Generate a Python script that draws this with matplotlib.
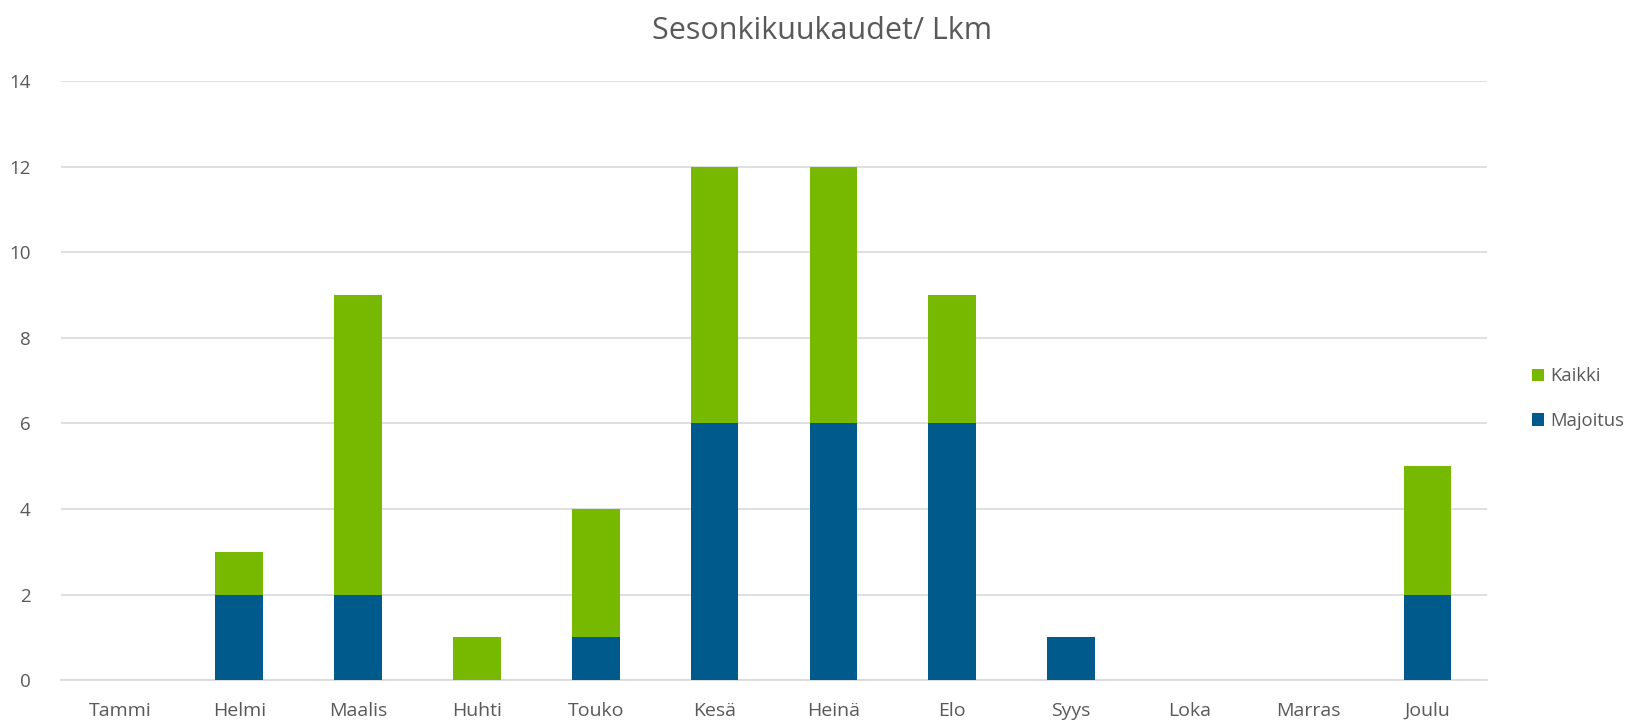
import numpy as np
import matplotlib.pyplot as plt

plt.rcParams['font.family'] = ['Open Sans', 'DejaVu Sans']

months = ['Tammi', 'Helmi', 'Maalis', 'Huhti', 'Touko', 'Kesä',
          'Heinä', 'Elo', 'Syys', 'Loka', 'Marras', 'Joulu']
majoitus = [0, 2, 2, 0, 1, 6, 6, 6, 1, 0, 0, 2]
kaikki = [0, 1, 7, 1, 3, 6, 6, 3, 0, 0, 0, 3]

blue = '#005A8C'
green = '#76B900'
txt = '#595959'

fig = plt.figure(figsize=(16.44, 7.25), dpi=100)
ax = fig.add_axes([0.0371, 0.062, 0.8674, 0.826])

x = np.arange(len(months))
b1 = ax.bar(x, majoitus, width=0.4, color=blue, label='Majoitus', zorder=3)
b2 = ax.bar(x, kaikki, width=0.4, bottom=majoitus, color=green, label='Kaikki', zorder=3)

ax.set_xlim(-0.5, len(months) - 0.5)
ax.set_ylim(0, 14)
ax.set_yticks(range(0, 15, 2))
ax.set_xticks(x)
ax.set_xticklabels(months)
ax.grid(axis='y', color='#d9d9d9', linewidth=1.2, zorder=0)
for s in ['top', 'right', 'left']:
    ax.spines[s].set_visible(False)
ax.spines['bottom'].set_color('#d9d9d9')
ax.spines['bottom'].set_linewidth(1.2)
ax.tick_params(axis='both', length=0, colors=txt)
ax.tick_params(axis='x', pad=16, labelsize=14)
ax.tick_params(axis='y', pad=22, labelsize=13.5)

fig.suptitle('Sesonkikuukaudet/ Lkm', y=0.978, fontsize=22, color=txt)

fig.legend(handles=[b2, b1], labels=['Kaikki', 'Majoitus'], loc='center left',
           bbox_to_anchor=(0.922, 0.45), frameon=False, fontsize=13.3,
           handlelength=0.65, handleheight=0.65, handletextpad=0.3,
           labelspacing=1.45, labelcolor=txt)

fig.savefig('out.png', dpi=100)
